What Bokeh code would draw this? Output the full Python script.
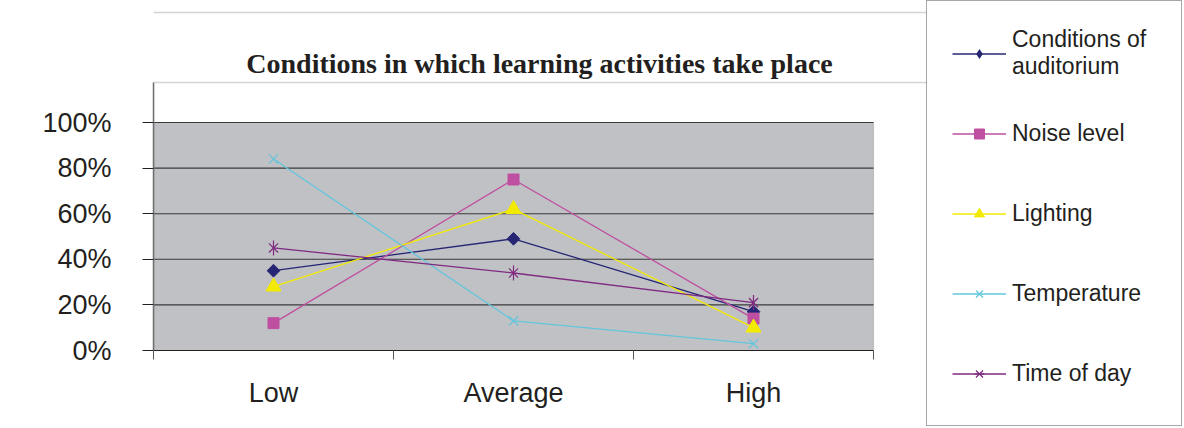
from bokeh.plotting import figure
from bokeh.models import (Range1d, FixedTicker, NumeralTickFormatter, Legend, LegendItem,
                          BoxAnnotation, Label, LinearAxis)
from bokeh.embed import file_html
from bokeh.resources import INLINE
import math

# ---- data ----
categories = ["Low", "Average", "High"]
conditions_of_auditorium = [0.35, 0.49, 0.17]
noise_level = [0.12, 0.75, 0.14]
lighting = [0.28, 0.62, 0.10]
temperature = [0.84, 0.13, 0.03]
time_of_day = [0.45, 0.34, 0.21]
y_ticks = [0.0, 0.2, 0.4, 0.6, 0.8, 1.0]
title_text = "Conditions in which learning activities take place"

# ---- layout constants (pixels) ----
W, H = 1184, 428
PLOT_L, PLOT_R = 153, 873      # grey plot area, horizontal
PLOT_T, PLOT_B = 122, 350      # grey plot area, vertical
LEG_L = 926                    # legend box left edge
INNER_T = 82                   # inner chart frame top
OUTER_T = 12                   # outer chart frame top

n = len(categories)
xs = [i + 0.5 for i in range(n)]
px_x = (PLOT_R - PLOT_L) / n
px_y = (PLOT_B - PLOT_T) / 1.0


def dx(px):
    return (px - PLOT_L) / px_x


def dy(px):
    return (PLOT_B - px) / px_y


x_end = dx(LEG_L)
y_end = dy(0)

TXT = "#231f20"
SANS = "Liberation Sans"
FRAME_C = "#707070"

p = figure(frame_width=LEG_L - PLOT_L, frame_height=PLOT_B,
           output_backend="svg", toolbar_location=None, title=None,
           x_range=Range1d(0, x_end), y_range=Range1d(0, y_end),
           min_border_left=PLOT_L, min_border_right=W - LEG_L, min_border_top=0,
           min_border_bottom=H - PLOT_B,
           background_fill_color="white", border_fill_color="white",
           outline_line_color=None)

# grey plot area
p.add_layout(BoxAnnotation(left=0, right=n, bottom=0, top=1, level="underlay",
                           fill_color="#c0c1c5", fill_alpha=1,
                           line_color="#7a7a7a", line_width=1.2))

# inner chart frame (top edge)
p.add_layout(BoxAnnotation(left=0, right=5000, top=PLOT_B - INNER_T, bottom=-500,
                           left_units="screen", right_units="screen",
                           top_units="screen", bottom_units="screen",
                           fill_alpha=0, line_color=FRAME_C, line_width=1.5))

# outer chart frame (top edge)
p.add_layout(BoxAnnotation(left=-500, right=5000, top=PLOT_B - OUTER_T, bottom=-500,
                           left_units="screen", right_units="screen",
                           top_units="screen", bottom_units="screen",
                           fill_alpha=0, line_color=FRAME_C, line_width=1.5))

# title
p.add_layout(Label(x=(245 + 833) / 2 - PLOT_L, y=PLOT_B - 63, x_units="screen", y_units="screen",
                   text=title_text, text_font="Liberation Serif", text_font_style="bold",
                   text_font_size="28px", text_color=TXT, text_align="center",
                   text_baseline="alphabetic"))

# x axis: labels at category centres, tick marks at category boundaries
xa = p.xaxis[0]
xa.bounds = (0, n)
xa.ticker = FixedTicker(ticks=xs, minor_ticks=[float(i) for i in range(n + 1)])
xa.major_label_overrides = {x: c for x, c in zip(xs, categories)}
xa.major_tick_out = 0
xa.major_tick_in = 0
xa.minor_tick_out = 9
xa.minor_tick_in = 0
xa.minor_tick_line_color = "#555555"
xa.axis_line_color = TXT
xa.major_label_text_font = SANS
xa.major_label_text_font_size = "27px"
xa.major_label_text_color = TXT
xa.major_label_standoff = 18

ya = p.yaxis[0]
ya.bounds = (0, dy(INNER_T))
ya.ticker = FixedTicker(ticks=y_ticks, minor_ticks=[])
ya.formatter = NumeralTickFormatter(format="0%")
ya.major_tick_out = 11
ya.major_tick_in = 0
ya.major_tick_line_color = TXT
ya.minor_tick_line_color = None
ya.axis_line_color = FRAME_C
ya.axis_line_width = 1.5
ya.major_label_text_font = SANS
ya.major_label_text_font_size = "27px"
ya.major_label_text_color = TXT
ya.major_label_standoff = 31

p.xgrid.grid_line_color = None
p.ygrid.grid_line_color = None
# horizontal grid lines, only across the grey plot area
p.segment(x0=[0] * len(y_ticks), x1=[n] * len(y_ticks), y0=y_ticks, y1=y_ticks,
          line_color="#3a3a3a", line_width=1.1)

LW = 1.3
items = []

c = "#262675"
r1 = p.line(xs, conditions_of_auditorium, line_color=c, line_width=LW)
m1_leg = p.scatter(xs, conditions_of_auditorium, marker="diamond", size=12,
                   fill_color=c, line_color=None)
m1 = p.scatter(xs, conditions_of_auditorium, marker="square", angle=math.pi / 4, size=9,
               fill_color=c, line_color=c)
items.append(LegendItem(label="Conditions of\nauditorium", renderers=[r1, m1_leg]))

c = "#bf4fa0"
r2 = p.line(xs, noise_level, line_color=c, line_width=LW)
m2 = p.scatter(xs, noise_level, marker="square", size=11, fill_color=c, line_color=c)
items.append(LegendItem(label="Noise level", renderers=[r2, m2]))

c = "#f2ea00"
r3 = p.line(xs, lighting, line_color=c, line_width=LW)
m3 = p.scatter(xs, lighting, marker="triangle", size=15, fill_color=c, line_color=c)
items.append(LegendItem(label="Lighting", renderers=[r3, m3]))

c = "#62c6dc"
r4 = p.line(xs, temperature, line_color=c, line_width=LW)
m4 = p.scatter(xs, temperature, marker="x", size=13, line_color=c, line_width=1.2)
items.append(LegendItem(label="Temperature", renderers=[r4, m4]))

c = "#802a82"
r5 = p.line(xs, time_of_day, line_color=c, line_width=LW)
m5 = p.scatter(xs, time_of_day, marker="x", size=13, line_color=c, line_width=1.2)
m5b = p.scatter(xs, time_of_day, marker="dash", angle=math.pi / 2, size=15, line_color=c, line_width=1.2)
items.append(LegendItem(label="Time of day", renderers=[r5, m5, m5b]))

legend = Legend(items=items, location="top_left", margin=0, padding=25,
                glyph_width=54, glyph_height=25, label_height=54, label_width=144, spacing=26,
                label_standoff=6, label_text_font=SANS, label_text_font_size="23px",
                label_text_line_height=1.3, label_text_color=TXT,
                border_line_color="#505050", border_line_width=1.2,
                background_fill_alpha=0)
p.add_layout(legend, "right")

open("out.html", "w").write(file_html(p, INLINE))
